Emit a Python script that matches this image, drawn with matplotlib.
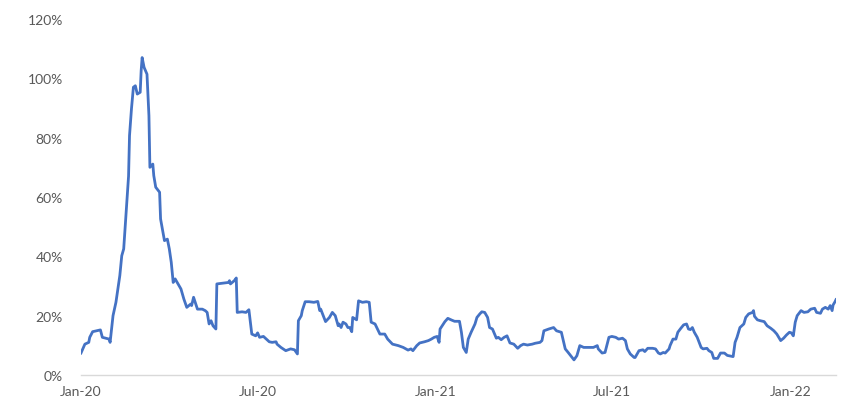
import matplotlib
matplotlib.use("Agg")
import matplotlib.pyplot as plt
import matplotlib.dates as mdates
from matplotlib.ticker import FuncFormatter, MultipleLocator
import pandas as pd

# series (values in %)
dates = [
    "2020-01-01", "2020-01-05", "2020-01-09", "2020-01-10", "2020-01-13", "2020-01-21",
    "2020-01-23", "2020-01-30", "2020-01-31", "2020-02-03", "2020-02-06", "2020-02-10",
    "2020-02-12", "2020-02-14", "2020-02-17", "2020-02-19", "2020-02-20", "2020-02-22",
    "2020-02-24", "2020-02-26", "2020-02-28", "2020-03-02", "2020-03-03", "2020-03-04",
    "2020-03-06", "2020-03-09", "2020-03-11", "2020-03-12", "2020-03-15", "2020-03-16",
    "2020-03-18", "2020-03-22", "2020-03-23", "2020-03-27", "2020-03-30", "2020-04-01",
    "2020-04-03", "2020-04-05", "2020-04-07", "2020-04-13", "2020-04-16", "2020-04-19",
    "2020-04-23", "2020-04-24", "2020-04-26", "2020-04-30", "2020-05-05", "2020-05-08",
    "2020-05-10", "2020-05-12", "2020-05-14", "2020-05-16", "2020-05-19", "2020-05-20",
    "2020-05-27", "2020-06-01", "2020-06-02", "2020-06-03", "2020-06-07", "2020-06-09",
    "2020-06-10", "2020-06-15", "2020-06-19", "2020-06-22", "2020-06-25", "2020-06-29",
    "2020-07-01", "2020-07-03", "2020-07-07", "2020-07-10", "2020-07-13", "2020-07-16",
    "2020-07-20", "2020-07-21", "2020-07-25", "2020-07-30", "2020-08-04", "2020-08-08",
    "2020-08-11", "2020-08-12", "2020-08-15", "2020-08-16", "2020-08-19", "2020-08-23",
    "2020-08-28", "2020-09-01", "2020-09-03", "2020-09-04", "2020-09-08", "2020-09-09",
    "2020-09-13", "2020-09-16", "2020-09-19", "2020-09-22", "2020-09-23", "2020-09-25",
    "2020-09-27", "2020-09-30", "2020-10-02", "2020-10-04", "2020-10-06", "2020-10-07",
    "2020-10-11", "2020-10-13", "2020-10-17", "2020-10-21", "2020-10-24", "2020-10-26",
    "2020-10-30", "2020-11-04", "2020-11-09", "2020-11-12", "2020-11-17", "2020-11-23",
    "2020-11-28", "2020-12-03", "2020-12-06", "2020-12-08", "2020-12-12", "2020-12-15",
    "2020-12-20", "2020-12-24", "2020-12-27", "2020-12-30", "2021-01-02", "2021-01-04",
    "2021-01-05", "2021-01-10", "2021-01-13", "2021-01-17", "2021-01-20", "2021-01-25",
    "2021-01-27", "2021-01-29", "2021-02-01", "2021-02-03", "2021-02-06", "2021-02-10",
    "2021-02-12", "2021-02-15", "2021-02-17", "2021-02-20", "2021-02-23", "2021-02-25",
    "2021-02-28", "2021-03-04", "2021-03-06", "2021-03-09", "2021-03-12", "2021-03-15",
    "2021-03-18", "2021-03-22", "2021-03-26", "2021-03-29", "2021-04-01", "2021-04-05",
    "2021-04-10", "2021-04-13", "2021-04-18", "2021-04-20", "2021-04-22", "2021-04-27",
    "2021-05-02", "2021-05-05", "2021-05-10", "2021-05-14", "2021-05-17", "2021-05-21",
    "2021-05-23", "2021-05-26", "2021-05-29", "2021-06-02", "2021-06-07", "2021-06-12",
    "2021-06-16", "2021-06-17", "2021-06-21", "2021-06-24", "2021-06-28", "2021-07-01",
    "2021-07-05", "2021-07-08", "2021-07-12", "2021-07-15", "2021-07-17", "2021-07-20",
    "2021-07-24", "2021-07-25", "2021-07-29", "2021-08-02", "2021-08-04", "2021-08-07",
    "2021-08-12", "2021-08-15", "2021-08-18", "2021-08-20", "2021-08-23", "2021-08-25",
    "2021-08-29", "2021-08-30", "2021-09-02", "2021-09-05", "2021-09-07", "2021-09-10",
    "2021-09-13", "2021-09-16", "2021-09-18", "2021-09-20", "2021-09-22", "2021-09-24",
    "2021-09-27", "2021-10-01", "2021-10-03", "2021-10-07", "2021-10-09", "2021-10-12",
    "2021-10-14", "2021-10-18", "2021-10-21", "2021-10-25", "2021-10-28", "2021-11-03",
    "2021-11-05", "2021-11-07", "2021-11-10", "2021-11-14", "2021-11-16", "2021-11-19",
    "2021-11-23", "2021-11-24", "2021-11-25", "2021-11-28", "2021-12-01", "2021-12-05",
    "2021-12-08", "2021-12-12", "2021-12-15", "2021-12-18", "2021-12-20", "2021-12-22",
    "2021-12-25", "2021-12-28", "2021-12-31", "2022-01-02", "2022-01-04", "2022-01-06",
    "2022-01-08", "2022-01-12", "2022-01-15", "2022-01-19", "2022-01-22", "2022-01-26",
    "2022-01-28", "2022-02-01", "2022-02-03", "2022-02-06", "2022-02-09", "2022-02-11",
    "2022-02-13", "2022-02-14", "2022-02-16", "2022-02-17",
]
values = [
    7.4, 10.4, 11.0, 12.7, 14.6, 15.2,
    12.7, 12.1, 11.0, 20.0, 24.5, 33.5,
    40.2, 42.5, 57.0, 67.0, 80.7, 89.7,
    97.0, 97.5, 94.7, 95.3, 102.6, 107.0,
    103.7, 101.4, 87.4, 70.0, 71.1, 67.2,
    63.3, 61.6, 52.6, 45.3, 45.8, 42.5,
    38.0, 31.2, 32.4, 29.0, 25.6, 22.8,
    23.9, 23.4, 26.2, 22.2, 22.2, 21.7,
    21.1, 17.2, 18.3, 16.6, 15.5, 30.7,
    31.0, 31.2, 31.8, 30.7, 31.8, 32.7,
    21.1, 21.3, 21.1, 22.0, 13.8, 13.2,
    14.2, 12.7, 13.0, 12.1, 11.2, 11.0,
    11.2, 10.4, 9.3, 8.2, 8.8, 8.5,
    7.1, 18.3, 20.0, 21.7, 24.7, 24.7,
    24.5, 24.8, 21.7, 22.2, 18.9, 18.0,
    19.4, 21.1, 20.0, 16.6, 17.2, 16.0,
    17.8, 17.2, 16.0, 16.0, 14.6, 19.4,
    18.6, 25.0, 24.5, 24.7, 24.5, 17.8,
    17.2, 13.8, 13.8, 12.1, 10.4, 9.9,
    9.3, 8.4, 8.8, 8.2, 9.9, 10.8,
    11.2, 11.6, 12.1, 12.7, 13.0, 11.0,
    15.5, 18.0, 19.1, 18.5, 18.1, 18.1,
    14.4, 9.3, 7.6, 12.1, 14.4, 17.2,
    19.4, 20.6, 21.3, 21.1, 19.4, 16.0,
    15.5, 12.4, 12.7, 11.9, 12.7, 13.2,
    10.8, 10.4, 9.0, 9.9, 10.4, 10.1,
    10.4, 10.7, 11.0, 11.6, 14.9, 15.5,
    16.0, 14.9, 14.4, 8.8, 7.6, 5.9,
    5.1, 6.5, 9.9, 9.3, 9.3, 9.3,
    9.9, 8.8, 7.4, 7.6, 12.7, 13.0,
    12.7, 12.1, 12.4, 11.6, 8.8, 7.1,
    5.9, 5.9, 8.2, 8.5, 7.9, 9.0,
    9.0, 8.8, 7.4, 7.1, 7.6, 7.4,
    8.8, 9.9, 12.1, 12.1, 14.4, 15.7,
    16.9, 17.2, 15.5, 15.3, 16.0, 14.4,
    12.7, 9.3, 8.8, 9.0, 8.2, 7.6,
    5.6, 5.6, 7.4, 7.4, 6.6, 6.2,
    11.0, 12.7, 16.0, 17.2, 19.4, 20.6,
    21.1, 21.7, 19.8, 18.6, 18.3, 18.0,
    16.6, 15.7, 14.9, 13.8, 12.7, 11.6,
    12.4, 13.5, 14.4, 14.2, 13.2, 17.8,
    20.0, 21.7, 21.1, 21.3, 22.2, 22.5,
    21.1, 20.8, 22.2, 22.8, 22.2, 23.4,
    21.7, 23.6, 24.7, 25.4,
]
tick_dates = ["2020-01-01", "2020-07-01", "2021-01-01", "2021-07-01", "2022-01-01"]

x = pd.to_datetime(dates)
ticks = pd.to_datetime(tick_dates)

plt.rcParams['font.family'] = ['Lato', 'DejaVu Sans']
text_col = "#595959"

fig = plt.figure(figsize=(8.58, 4.06), dpi=100)
ax = fig.add_axes([81/858, 30/406, 755/858, 356/406])

ax.plot(x, values, color="#4472C4", lw=2.0, solid_joinstyle="round")

ax.set_xlim(x[0], x[-1])
ax.set_ylim(0, 120)
ax.yaxis.set_major_locator(MultipleLocator(20))
ax.yaxis.set_major_formatter(FuncFormatter(lambda v, p: f"{v:.0f}%"))
ax.set_xticks(ticks)
ax.xaxis.set_major_formatter(mdates.DateFormatter("%b-%y"))

for s in ["top", "right", "left"]:
    ax.spines[s].set_visible(False)
ax.spines["bottom"].set_color("#D9D9D9")
ax.spines["bottom"].set_linewidth(1.0)
ax.tick_params(axis="both", length=0, colors=text_col, labelsize=10)
ax.tick_params(axis="y", pad=13)
ax.tick_params(axis="x", pad=7)

fig.savefig("out.png", dpi=100)
